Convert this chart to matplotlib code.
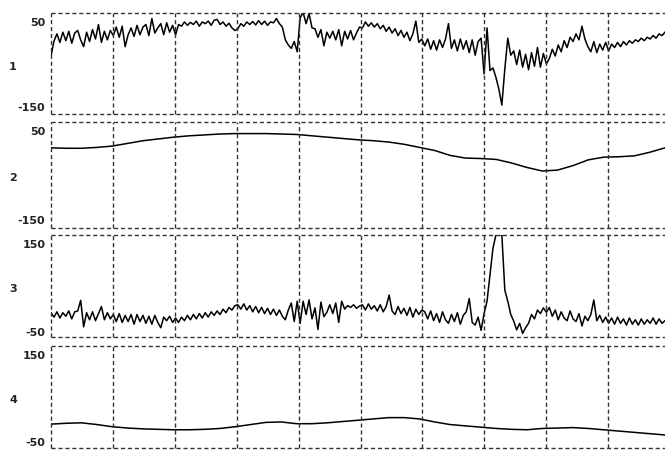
import matplotlib
matplotlib.use('Agg')
import matplotlib.pyplot as plt
import numpy as np

plt.rcParams['axes.unicode_minus'] = False

# channel traces, values
ch1 = [-30, 5, 22, 2, 26, 6, 28, 0, 24, 30, 8, -8, 26, 4, 32, 10, 44, 2, 28, 8, 30,
       18, 38, 14, 40, -8, 20, 36, 16, 42, 20, 38, 44, 18, 58, 24, 36, 46, 20, 48, 26, 42,
       20, 44, 40, 50, 42, 49, 44, 52, 40, 50, 46, 52, 42, 54, 56, 44, 50, 40, 47, 36, 30,
       34, 46, 40, 50, 44, 51, 43, 53, 44, 52, 42, 50, 48, 58, 46, 38, 8, -4, -12, 4, -20,
       60, 72, 46, 70, 36, 34, 14, 32, -6, 26, 12, 28, 8, 32, -6, 28, 10, 30, 8, 24, 38,
       36, 50, 40, 48, 38, 46, 34, 42, 28, 38, 24, 34, 18, 30, 14, 26, 6, 22, 52, 2, 10,
       -6, 10, -14, 6, -16, 8, -10, 10, 46, -12, 8, -18, 10, -14, 6, -22, 8, -28, 4, 12, -72,
       36, -64, -58, -80, -108, -145, -60, 12, -28, -18, -50, -16, -56, -26, -62, -22, -54, -10, -56, -24, -48,
       -36, -14, -30, -4, -20, 6, -10, 14, 4, 22, 8, 40, 10, -8, -20, 4, -22, -2, -16, 2, -18,
       -2, -10, 2, -8, 4, -4, 6, 0, 8, 4, 12, 6, 14, 10, 18, 12, 22, 18, 26]

ch2 = [12, 11, 11, 13, 16, 22, 28, 32, 36, 39, 41, 43, 44, 44, 44, 43, 42, 39, 36, 33,
       30, 28, 25, 20, 13, 6, -5, -11, -12, -14, -22, -32, -40, -38, -28, -15, -9, -8, -6, 2, 12]

ch3 = [-6, -16, -4, -18, -6, -14, -2, -20, -4, -2, 22, -38, -6, -22, -4, -24, -8, 8, -22, -6, -20,
       -10, -26, -8, -28, -12, -26, -10, -32, -10, -26, -12, -30, -14, -32, -12, -28, -40, -16, -24, -14, -28,
       -18, -28, -16, -24, -12, -22, -10, -20, -8, -18, -6, -16, -4, -12, -2, -10, 2, -6, 6, 0, 10,
       12, 2, 14, 0, 10, -4, 8, -6, 6, -8, 4, -10, 2, -12, 0, -14, -22, 0, 16, -26, 20,
       -30, 20, -10, 23, -20, 5, -44, 18, -15, -5, 12, -8, 16, -28, 20, 2, 10, 6, 12, 4, 9,
       12, 0, 14, 2, 10, -2, 12, -4, 8, 34, -2, -10, 8, -8, 4, -12, 6, -16, 2, -10, 0,
       -4, -20, -2, -24, -8, -28, -4, -22, -30, -10, -26, -6, -32, -12, -4, 26, -28, -34, -16, -46, -8,
       20, 80, 140, 170, 170, 170, 45, 20, -10, -25, -45, -30, -53, -40, -30, -10, -20, 0, -8, 5, -5,
       6, -14, 0, -22, -4, -18, -24, -2, -20, -26, -8, -36, -14, -24, -10, 23, -24, -12, -28, -16, -30,
       -18, -32, -16, -30, -20, -34, -18, -32, -22, -34, -20, -32, -22, -30, -18, -32, -20, -30, -24]

ch4 = [-9, -7, -6, -10, -15, -18, -20, -21, -22, -22, -21, -19, -15, -10, -5, -4, -8, -8, -6, -3,
       0, 3, 6, 6, 3, -4, -10, -13, -16, -19, -21, -22, -19, -18, -17, -19, -22, -25, -28, -31, -34]

channels = [ch1, ch2, ch3, ch4]
names = ['1', '2', '3', '4']
ticks = [[50, -150], [50, -150], [150, -50], [150, -50]]
limits = [(-166, 71), (-168, 70), (-61, 170), (-64, 171)]
# panel top/bottom in pixels
rows = [(13, 114), (122, 228), (235, 337), (346, 448)]

W, H = 665, 450
fig = plt.figure(figsize=(W / 100, H / 100), dpi=100)
xmax = (W - 51) / 61.9

for data, name, tk, lim, (top, bot) in zip(channels, names, ticks, limits, rows):
    ax = fig.add_axes([51 / W, 1 - bot / H, 1 - 51 / W, (bot - top) / H])
    x = np.linspace(0, xmax, len(data))
    ax.plot(x, data, color='black', lw=1.1)
    ax.set_xlim(0, xmax)
    ax.set_ylim(*lim)
    for s in ax.spines.values():
        s.set_visible(False)
    for g in range(10):
        ax.axvline(g, color='#333333', lw=1.0, ls=(0, (3, 2)), clip_on=False)
    for yy in lim:
        ax.axhline(yy, color='#333333', lw=1.0, ls=(0, (3, 2)), clip_on=False)
    ax.set_xticks([])
    ax.set_yticks(tk)
    ax.tick_params(axis='y', length=0, pad=4)
    for lab in ax.get_yticklabels():
        lab.set_fontweight('bold')
        lab.set_fontsize(8)
        lab.set_color('#222222')
    fig.text(13 / W, 1 - ((top + bot) / 2 + 3) / H, name, fontsize=8, fontweight='bold',
             color='#222222', ha='center', va='center')

fig.savefig('out.png', dpi=100)
